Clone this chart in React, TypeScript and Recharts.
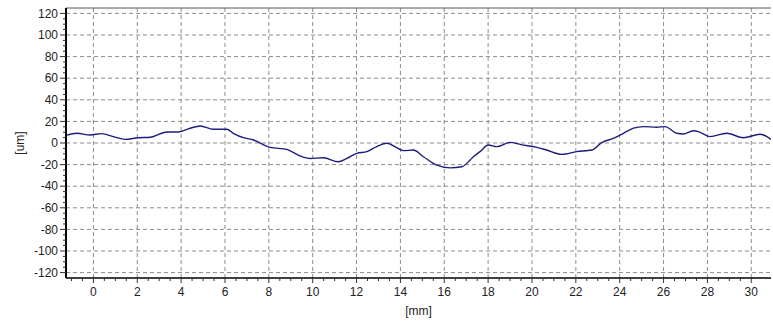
import {
  Label,
  Line,
  LineChart,
  ReferenceLine,
  XAxis,
  YAxis,
} from "recharts";

// profile: position [mm] -> height [um]
const positionMm = [
  -1.25, -0.76, -0.15, 0.38, 0.91, 1.45, 2.05, 2.59, 3.35, 3.88, 4.41, 4.87,
  5.47, 6.08, 6.38, 6.84, 7.3, 8.06, 8.82, 9.43, 9.88, 10.49, 11.17, 11.56,
  12.01, 12.47, 12.92, 13.38, 13.83, 14.14, 14.59, 15.05, 15.66, 16.27, 16.8,
  17.33, 17.63, 18.01, 18.39, 19.0, 19.5, 20.22, 20.67, 21.36, 22.04, 22.73,
  23.18, 23.71, 24.17, 24.63, 25.08, 25.69, 26.07, 26.6, 26.9, 27.36, 27.67,
  28.12, 28.88, 29.64, 30.4, 30.9,
];
const heightUm = [
  7, 9, 7.4, 8.7, 5.9, 3.4, 4.9, 5.3, 10.2, 10.2, 13.7, 15.8, 12.7, 12.7, 9,
  4.9, 2.8, -4, -5.9, -12, -14.3, -13.7, -17.4, -14.3, -9.6, -8, -3.4, -0.3,
  -4.3, -7.1, -6.5, -12.7, -20.5, -23, -22, -12.7, -8, -1.9, -3.4, 0.6, -1.5,
  -4, -6.5, -10.5, -8, -6.5, 0.3, 4.3, 9, 13.7, 15.2, 14.6, 15.2, 9, 8.4, 11.4,
  9.9, 5.9, 9, 4.9, 8.1, 3.4,
];

const xMajor = [0, 2, 4, 6, 8, 10, 12, 14, 16, 18, 20, 22, 24, 26, 28, 30];
const xMinor = Array.from({ length: 63 }, (_, i) => -1 + i * 0.5);
const yMajor = [-120, -100, -80, -60, -40, -20, 0, 20, 40, 60, 80, 100, 120];
const yMinor = Array.from({ length: 49 }, (_, i) => -120 + i * 5);

const data = positionMm.map((x, i) => ({ x, y: heightUm[i] }));

const font = "'Liberation Sans', Arial, sans-serif";
const textColor = "#222";
const gridColor = "#8c8c8c";

function XTick({ x, y, payload }: any) {
  const v = payload.value;
  const major = Math.abs(v % 2) < 1e-6;
  const axisY = y - 9;
  return (
    <g>
      <line x1={x} x2={x} y1={axisY} y2={axisY + (major ? 5 : 3)} stroke="#333" />
      {major && (
        <text x={x} y={y} dy="0.71em" textAnchor="middle" fontSize={12} fontFamily={font} fill={textColor}>
          {v}
        </text>
      )}
    </g>
  );
}

function YTick({ x, y, payload }: any) {
  const v = payload.value;
  const major = v % 20 === 0;
  const axisX = x + 8;
  return (
    <g>
      <line x1={axisX - (major ? 6 : 3)} x2={axisX} y1={y} y2={y} stroke="#333" />
      {major && (
        <text x={x} y={y} dy="0.35em" textAnchor="end" fontSize={12} fontFamily={font} fill={textColor}>
          {v}
        </text>
      )}
    </g>
  );
}

export default function App() {
  return (
    <div style={{ position: "absolute", left: 0, top: 0, background: "#fff" }}>
      <LineChart width={773} height={322} data={data} margin={{ top: 8, right: 2, bottom: 0, left: 0 }}>
        {xMajor.map((t) => (
          <ReferenceLine key={"vx" + t} x={t} stroke={gridColor} strokeDasharray="4 3" />
        ))}
        {yMajor.map((t) => (
          <ReferenceLine key={"hy" + t} y={t} stroke={gridColor} strokeDasharray="4 3" />
        ))}
        <ReferenceLine y={125} stroke="#555" />
        <XAxis
          dataKey="x"
          type="number"
          domain={[-1.25, 30.9]}
          allowDataOverflow
          ticks={xMinor}
          interval={0}
          height={44}
          tickSize={5}
          tickMargin={4}
          tickLine={false}
          tick={<XTick />}
          axisLine={{ stroke: "#000", strokeWidth: 1.5 }}
        >
          <Label
            content={({ viewBox }: any) => (
              <text
                x={viewBox.x + viewBox.width / 2}
                y={viewBox.y + 33}
                dy="0.35em"
                textAnchor="middle"
                fontSize={12}
                fontFamily={font}
                fill={textColor}
              >
                [mm]
              </text>
            )}
          />
        </XAxis>
        <YAxis
          type="number"
          domain={[-125, 125]}
          allowDataOverflow
          ticks={yMinor}
          interval={0}
          width={66}
          tickSize={6}
          tickMargin={2}
          tickLine={false}
          tick={<YTick />}
          axisLine={{ stroke: "#000", strokeWidth: 2 }}
        >
          <Label
            content={({ viewBox }: any) => {
              const cx = viewBox.x + 20;
              const cy = viewBox.y + viewBox.height / 2;
              return (
                <text
                  x={cx}
                  y={cy}
                  dy="0.35em"
                  textAnchor="middle"
                  fontSize={12}
                  fontFamily={font}
                  fill={textColor}
                  transform={`rotate(-90 ${cx} ${cy})`}
                >
                  [um]
                </text>
              );
            }}
          />
        </YAxis>
        <Line
          dataKey="y"
          type="monotone"
          stroke="#1c1c7e"
          strokeWidth={1.4}
          dot={false}
          isAnimationActive={false}
        />
      </LineChart>
    </div>
  );
}
